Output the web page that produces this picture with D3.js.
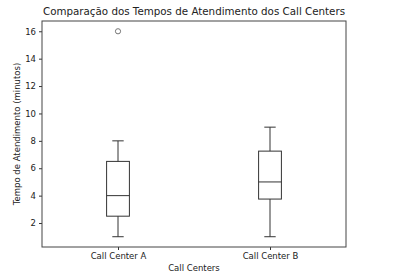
<!DOCTYPE html>
<html lang="pt">
<head>
  <meta charset="UTF-8">
  <title>Comparação dos Tempos de Atendimento dos Call Centers</title>
  <script src="https://d3js.org/d3.v7.min.js"></script>
  <style>
    body { margin: 0; background: #fff; }
    text { font-family: "DejaVu Sans", sans-serif; fill: #222; }
  </style>
</head>
<body>
<div id="chart"></div>
<script>
// data
var centers = ["Call Center A", "Call Center B"];
var whiskerLow = [1, 1];
var q1 = [2.5, 3.75];
var median = [4, 5];
var q3 = [6.5, 7.25];
var whiskerHigh = [8, 9];
var outliers = [[16], []];
var yTicks = [2, 4, 6, 8, 10, 12, 14, 16];

var width = 400, height = 279;
var margin = {top: 21, right: 54, bottom: 32, left: 42};
var w = width - margin.left - margin.right,
    h = height - margin.top - margin.bottom;

var svg = d3.select("#chart").append("svg")
  .attr("width", width)
  .attr("height", height);

var g = svg.append("g")
  .attr("transform", "translate(" + margin.left + "," + margin.top + ")");

// positions 1..n with 0.5 padding, like matplotlib
var x = d3.scaleLinear().domain([0.5, centers.length + 0.5]).range([0, w]);
var y = d3.scaleLinear().domain([0.25, 16.75]).range([h, 0]);

var boxW = x(1.15) - x(1);
var capW = boxW / 2;

// axes
var yAxis = d3.axisLeft(y).tickValues(yTicks).tickSize(3).tickPadding(3);
var xAxis = d3.axisBottom(x).tickValues(centers.map(function(d, i) { return i + 1; }))
  .tickFormat(function(d) { return centers[d - 1]; }).tickSize(3).tickPadding(3);

var ya = g.append("g").call(yAxis);
var xa = g.append("g").attr("transform", "translate(0," + h + ")").call(xAxis);
[ya, xa].forEach(function(a) {
  a.select(".domain").remove();
  a.selectAll("line").attr("stroke", "#333");
  a.selectAll("text").attr("font-size", "8.5px").attr("fill", "#222")
    .style("font-family", "DejaVu Sans, sans-serif");
});

// frame
g.append("rect")
  .attr("x", 0).attr("y", 0).attr("width", w).attr("height", h)
  .attr("fill", "none").attr("stroke", "#444").attr("stroke-width", 1);

// boxes
var boxes = g.selectAll(".box").data(centers).enter().append("g").attr("class", "box");
var stroke = "#333";

boxes.append("line") // lower whisker
  .attr("x1", function(d, i) { return x(i + 1); })
  .attr("x2", function(d, i) { return x(i + 1); })
  .attr("y1", function(d, i) { return y(whiskerLow[i]); })
  .attr("y2", function(d, i) { return y(q1[i]); })
  .attr("stroke", stroke);

boxes.append("line") // upper whisker
  .attr("x1", function(d, i) { return x(i + 1); })
  .attr("x2", function(d, i) { return x(i + 1); })
  .attr("y1", function(d, i) { return y(q3[i]); })
  .attr("y2", function(d, i) { return y(whiskerHigh[i]); })
  .attr("stroke", stroke);

[whiskerLow, whiskerHigh].forEach(function(arr) {
  boxes.append("line") // caps
    .attr("x1", function(d, i) { return x(i + 1) - capW / 2; })
    .attr("x2", function(d, i) { return x(i + 1) + capW / 2; })
    .attr("y1", function(d, i) { return y(arr[i]); })
    .attr("y2", function(d, i) { return y(arr[i]); })
    .attr("stroke", stroke);
});

boxes.append("rect")
  .attr("x", function(d, i) { return x(i + 1) - boxW / 2; })
  .attr("y", function(d, i) { return y(q3[i]); })
  .attr("width", boxW)
  .attr("height", function(d, i) { return y(q1[i]) - y(q3[i]); })
  .attr("fill", "none")
  .attr("stroke", stroke);

boxes.append("line") // median
  .attr("x1", function(d, i) { return x(i + 1) - boxW / 2; })
  .attr("x2", function(d, i) { return x(i + 1) + boxW / 2; })
  .attr("y1", function(d, i) { return y(median[i]); })
  .attr("y2", function(d, i) { return y(median[i]); })
  .attr("stroke", stroke);

outliers.forEach(function(arr, i) {
  g.selectAll(null).data(arr).enter().append("circle")
    .attr("cx", x(i + 1))
    .attr("cy", function(d) { return y(d); })
    .attr("r", 2.6)
    .attr("fill", "none")
    .attr("stroke", "#777");
});

// labels
svg.append("text")
  .attr("x", margin.left + w / 2).attr("y", 15)
  .attr("text-anchor", "middle").attr("font-size", "10.3px")
  .text("Comparação dos Tempos de Atendimento dos Call Centers");

svg.append("text")
  .attr("x", margin.left + w / 2).attr("y", 271)
  .attr("text-anchor", "middle").attr("font-size", "8.5px")
  .text("Call Centers");

svg.append("text")
  .attr("transform", "translate(20," + (margin.top + h / 2) + ") rotate(-90)")
  .attr("text-anchor", "middle").attr("font-size", "8.5px")
  .text("Tempo de Atendimento (minutos)");
</script>
</body>
</html>
